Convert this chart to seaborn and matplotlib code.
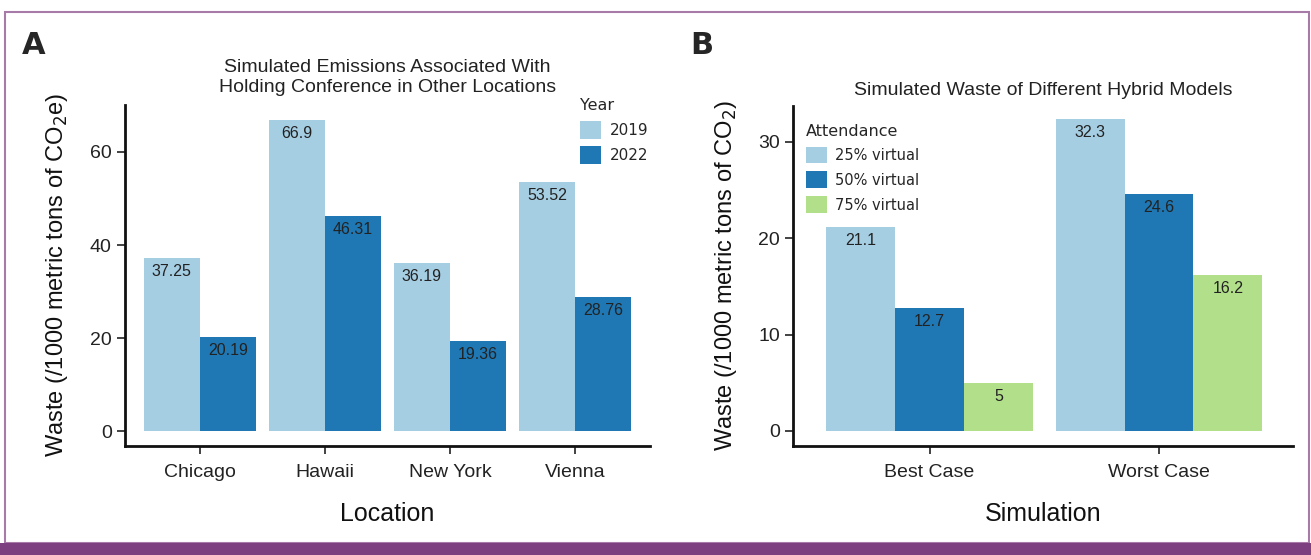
import matplotlib.pyplot as plt
import pandas as pd
import seaborn as sns
from matplotlib.patches import Rectangle

# data
locations = ["Chicago", "Hawaii", "New York", "Vienna"]
emis_2019 = [37.25, 66.9, 36.19, 53.52]
emis_2022 = [20.19, 46.31, 19.36, 28.76]

simulations = ["Best Case", "Worst Case"]
waste_25 = [21.1, 32.3]
waste_50 = [12.7, 24.6]
waste_75 = [5, 16.2]

df_a = pd.DataFrame({
    "Location": locations * 2,
    "Year": ["2019"] * 4 + ["2022"] * 4,
    "value": emis_2019 + emis_2022,
})
df_b = pd.DataFrame({
    "Simulation": simulations * 3,
    "Attendance": ["25% virtual"] * 2 + ["50% virtual"] * 2 + ["75% virtual"] * 2,
    "value": waste_25 + waste_50 + waste_75,
})

sns.set_style("ticks")
plt.rcParams["font.family"] = ["Liberation Sans", "DejaVu Sans"]
pal = ["#a6cee3", "#1f78b4", "#b2df8a"]
purple = "#7e3f80"

fig = plt.figure(figsize=(13.11, 5.55), dpi=100)
W, H = 1311, 555

# frame + bottom bar
fig.patches.append(Rectangle((5 / W, 12 / H), 1304 / W, 531 / H, transform=fig.transFigure,
                             fill=False, edgecolor="#a77aa8", lw=1.5))
fig.patches.append(Rectangle((0, 0), 1, 12 / H, transform=fig.transFigure,
                             facecolor=purple, edgecolor="none"))

ax1 = fig.add_axes([125 / W, 109 / H, 525 / W, 341 / H])
ax2 = fig.add_axes([793 / W, 109 / H, 500 / W, 340 / H])

sns.barplot(data=df_a, x="Location", y="value", hue="Year", palette=pal[:2],
            width=0.9, gap=0, saturation=1, linewidth=0, ax=ax1)
sns.barplot(data=df_b, x="Simulation", y="value", hue="Attendance", palette=pal,
            width=0.9, gap=0, saturation=1, linewidth=0, ax=ax2)

for ax in (ax1, ax2):
    for c in ax.containers:
        ax.bar_label(c, labels=[f"{v:g}" for v in c.datavalues], padding=-15, fontsize=11.5,
                     color="#222222")

ax1.set_xlim(-0.6, 3.6)
ax1.set_ylim(-3.2, 70.1)
ax1.set_yticks([0, 20, 40, 60])
ax2.set_xlim(-0.595, 1.584)
ax2.set_ylim(-1.56, 33.7)
ax2.set_yticks([0, 10, 20, 30])

ax1.set_title("Simulated Emissions Associated With\nHolding Conference in Other Locations",
              fontsize=14, pad=9, linespacing=1.3, color="#222222")
ax2.set_title("Simulated Waste of Different Hybrid Models", fontsize=14, pad=8, color="#222222")
ax1.set_xlabel("Location", fontsize=18, labelpad=15, color="#111111")
ax2.set_xlabel("Simulation", fontsize=18, labelpad=15, color="#111111")
ax1.set_ylabel("Waste (/1000 metric tons of CO$_2$e)", fontsize=17, labelpad=14, color="#111111")
ax2.set_ylabel("Waste (/1000 metric tons of CO$_2$)", fontsize=17, labelpad=14, color="#111111")

for ax in (ax1, ax2):
    sns.despine(ax=ax)
    ax.tick_params(labelsize=14, length=6, width=1.2, colors="#222222")
    ax.tick_params(axis="x", pad=7)
    for s in ("left", "bottom"):
        ax.spines[s].set_linewidth(2)
        ax.spines[s].set_color("#111111")

leg1 = ax1.legend(title="Year", loc="upper left", bbox_to_anchor=(0.84, 1.06), frameon=False,
                  prop={"family": "DejaVu Sans", "size": 11}, handlelength=1.4, handleheight=1.4,
                  labelspacing=0.5, handletextpad=0.6)
leg1.get_title().set_fontsize(11.5)
leg1.get_title().set_family("DejaVu Sans")
leg1._legend_box.align = "left"
leg2 = ax2.legend(title="Attendance", loc="upper left", bbox_to_anchor=(0.0, 0.987), frameon=False,
                  prop={"family": "DejaVu Sans", "size": 10.5}, handlelength=1.4, handleheight=1.4,
                  labelspacing=0.55, handletextpad=0.6)
leg2.get_title().set_fontsize(11.5)
leg2.get_title().set_family("DejaVu Sans")
leg2._legend_box.align = "left"

fig.text(22 / W, 1 - 45 / H, "A", fontsize=22, fontweight="bold", family="DejaVu Sans", va="center")
fig.text(690 / W, 1 - 45 / H, "B", fontsize=22, fontweight="bold", family="DejaVu Sans", va="center")

fig.savefig("out.png", dpi=100)
